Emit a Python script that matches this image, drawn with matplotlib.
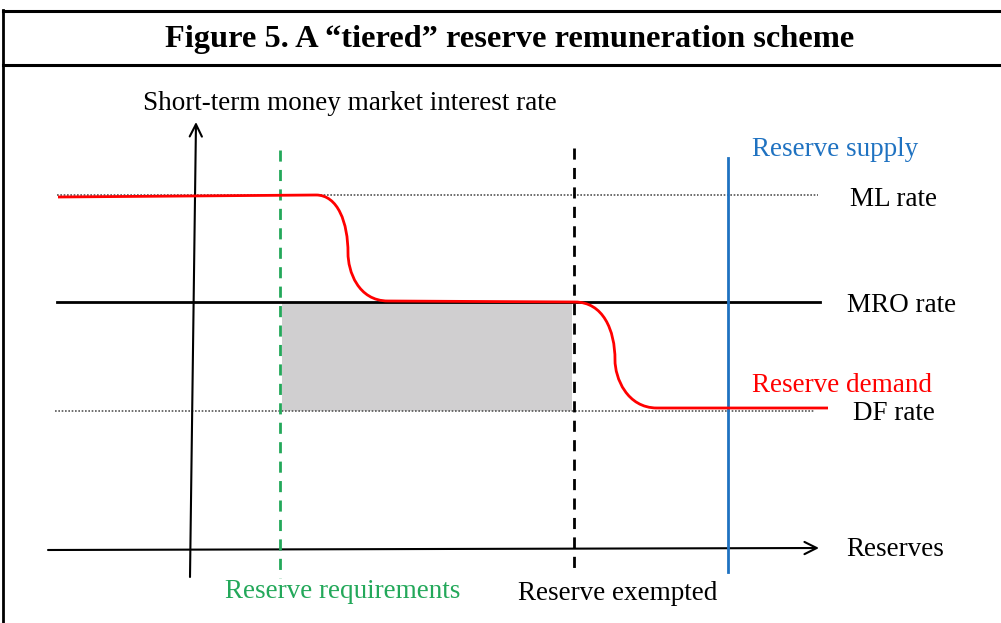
import matplotlib
matplotlib.use("Agg")
import matplotlib.pyplot as plt
from matplotlib.path import Path
from matplotlib.patches import PathPatch, Rectangle

# ---- schematic data (chart units: x = reserves, y = rate, y grows downward) ----
rate_names = ["ML rate", "MRO rate", "DF rate"]
rate_levels = [195, 302, 411]

reserve_requirements = 280
reserve_exempted = 574
reserve_supply = 728

# red demand curve nodes (start, step-1 start, step-1 middle, step-1 end,
# step-2 start, step-2 middle, step-2 end, end)
demand_x = [58, 316, 348, 388, 575, 615, 657, 828]
demand_y = [197, 195, 253, 301, 302, 360, 408, 408]

title = "Figure 5. A \u201ctiered\u201d reserve remuneration scheme"
y_label = "Short-term money market interest rate"
x_label = "Reserves"

RED = "#ff0000"
BLUE = "#1f72c1"
GREEN = "#23a85a"
GREY = "#d0cfd0"

plt.rcParams["font.family"] = ["Liberation Serif", "DejaVu Serif"]

fig = plt.figure(figsize=(10.01, 6.23), dpi=100)
ax = fig.add_axes([0, 0, 1, 1])
ax.set_xlim(0, 1001)
ax.set_ylim(623, 0)
ax.axis("off")

# frame
ax.plot([3, 3], [10, 623], color="black", lw=2)
ax.plot([3, 1001], [11, 11], color="black", lw=2.2)
ax.plot([3, 1001], [65, 65], color="black", lw=2.2)

ax.text(510, 40, title, ha="center", va="center", fontsize=23.3,
        fontweight="bold")

# shaded area
ax.add_patch(Rectangle((reserve_requirements + 2, rate_levels[1]),
                       reserve_exempted - reserve_requirements - 4,
                       rate_levels[2] - rate_levels[1],
                       facecolor=GREY, edgecolor="none", zorder=1))

# rate lines
ax.plot([57, 818], [rate_levels[0]] * 2, color="#555555", lw=1.2,
        linestyle=(0, (1, 1)), zorder=2)
ax.plot([57, 820], [rate_levels[1]] * 2, color="black", lw=2, zorder=2)
ax.plot([55, 815], [rate_levels[2]] * 2, color="#555555", lw=1.2,
        linestyle=(0, (1, 1)), zorder=2)

# axes with arrows
ax.annotate("", xy=(196, 122), xytext=(190, 577),
            arrowprops=dict(arrowstyle="->", color="black", lw=1.5,
                            mutation_scale=22, shrinkA=0, shrinkB=0))
ax.annotate("", xy=(819, 548), xytext=(48, 550),
            arrowprops=dict(arrowstyle="->", color="black", lw=1.5,
                            mutation_scale=22, shrinkA=0, shrinkB=0))

# vertical lines
ax.plot([reserve_requirements] * 2, [150, 578], color=GREEN, lw=2,
        linestyle=(0, (4, 3)), zorder=3)
ax.plot([reserve_exempted] * 2, [148, 570], color="black", lw=2,
        linestyle=(0, (4, 3)), zorder=3)
ax.plot([reserve_supply] * 2, [158, 572], color=BLUE, lw=2, zorder=3)

# demand curve
dx, dy = demand_x, demand_y
verts = [
    (dx[0], dy[0]), (dx[1], dy[1]),
    (dx[1] + 22, dy[1]), (dx[2], dy[1] + 28), (dx[2], dy[2]),
    (dx[2], dy[3] - 30), (dx[2] + 10, dy[3]), (dx[3], dy[3]),
    (dx[4], dy[4]),
    (dx[4] + 28, dy[4]), (dx[5], dy[4] + 28), (dx[5], dy[5]),
    (dx[5], dy[6] - 30), (dx[5] + 12, dy[6]), (dx[6], dy[6]),
    (dx[7], dy[7]),
]
codes = [Path.MOVETO, Path.LINETO,
         Path.CURVE4, Path.CURVE4, Path.CURVE4,
         Path.CURVE4, Path.CURVE4, Path.CURVE4,
         Path.LINETO,
         Path.CURVE4, Path.CURVE4, Path.CURVE4,
         Path.CURVE4, Path.CURVE4, Path.CURVE4,
         Path.LINETO]
ax.add_patch(PathPatch(Path(verts, codes), facecolor="none", edgecolor=RED,
                       lw=2, zorder=4))

# labels
fs = 19.5
ax.text(143, 103, y_label, ha="left", va="center", fontsize=fs)
ax.text(752, 150, "Reserve supply", ha="left", va="center", fontsize=fs,
        color=BLUE)
ax.text(850, 199, rate_names[0], ha="left", va="center", fontsize=fs)
ax.text(847, 306, rate_names[1], ha="left", va="center", fontsize=fs)
ax.text(752, 386, "Reserve demand", ha="left", va="center", fontsize=fs,
        color=RED)
ax.text(853, 414, rate_names[2], ha="left", va="center", fontsize=fs)
ax.text(846, 549, x_label, ha="left", va="center", fontsize=fs)
ax.text(225, 592, "Reserve requirements", ha="left", va="center",
        fontsize=fs, color=GREEN)
ax.text(518, 594, "Reserve exempted", ha="left", va="center", fontsize=fs)

fig.savefig("out.png", dpi=100)
